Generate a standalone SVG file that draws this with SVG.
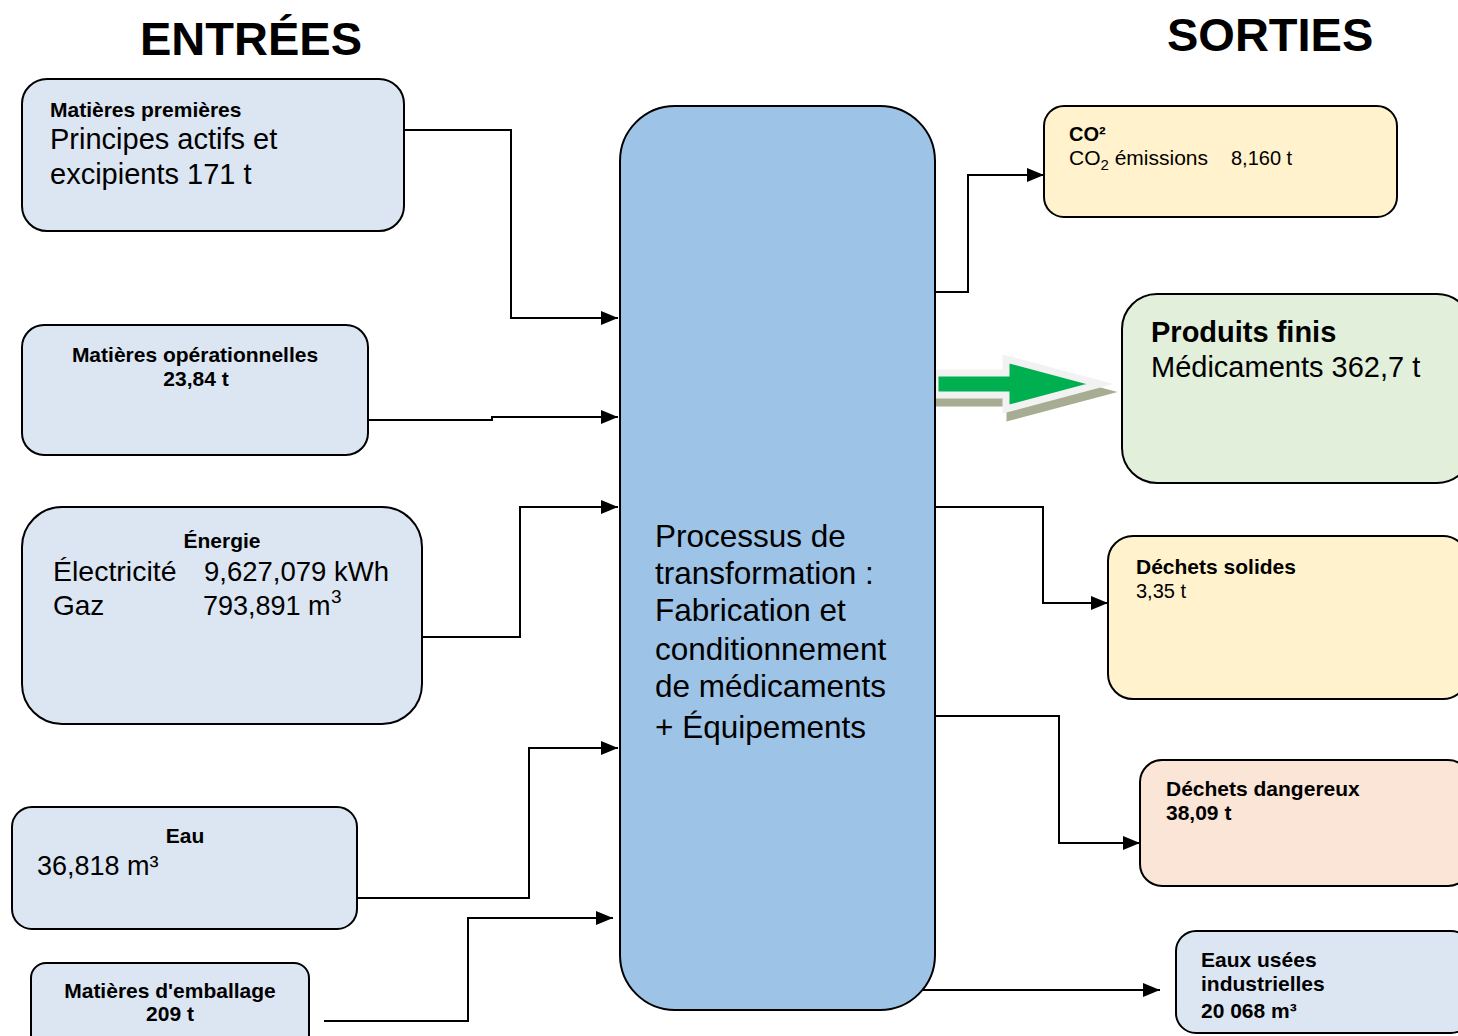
<svg xmlns="http://www.w3.org/2000/svg" width="1458" height="1036" viewBox="0 0 1458 1036">
<style>
text{font-family:"Liberation Sans",Arial,sans-serif;fill:#000}
.t{font-weight:bold;font-size:47px}
.b{font-weight:bold;font-size:21px}
.n{font-size:29px}
.box{stroke:#000;stroke-width:2}
.in{fill:#dce6f2}
.conn{fill:none;stroke:#000;stroke-width:2}
</style>
<defs>
<marker id="ah" markerUnits="userSpaceOnUse" markerWidth="18" markerHeight="14" refX="17" refY="7" orient="auto">
<path d="M0,0 L17,7 L0,14 z" fill="#000"/>
</marker>
</defs>
<text class="t" x="140" y="55">ENTRÉES</text>
<text class="t" x="1167" y="51">SORTIES</text>

<g id="connectors">
<path class="conn" d="M404,130 H511 V318 H618" marker-end="url(#ah)"/>
<path class="conn" d="M368,420 H492 V417 H618" marker-end="url(#ah)"/>
<path class="conn" d="M422,637 H520 V507 H618" marker-end="url(#ah)"/>
<path class="conn" d="M357,898 H529 V748 H618" marker-end="url(#ah)"/>
<path class="conn" d="M324,1021 H468 V918 H613" marker-end="url(#ah)"/>
<path class="conn" d="M935,292 H968 V175 H1044" marker-end="url(#ah)"/>
<path class="conn" d="M935,507 H1043 V603 H1108" marker-end="url(#ah)"/>
<path class="conn" d="M935,716 H1059 V843 H1140" marker-end="url(#ah)"/>
<path class="conn" d="M915,990 H1160" marker-end="url(#ah)"/>
<g id="big-arrow">
<polygon points="939,381 1010,381 1010,367 1104,392 1010,417 1010,403 939,403" fill="#a6ad92" stroke="#a6ad92" stroke-width="7"/>
<polygon points="935,373 1006,373 1006,359 1100,384 1006,409 1006,395 935,395" fill="#00b050" stroke="#f2f2f2" stroke-width="7"/>
</g>
</g>

<g id="matieres-premieres">
<rect class="box in" x="22" y="79" width="382" height="152" rx="25"/>
<text class="b" x="50" y="117">Matières premières</text>
<text class="n" x="50" y="149">Principes actifs et</text>
<text class="n" x="50" y="184">excipients 171 t</text>
</g>

<g id="matieres-operationnelles">
<rect class="box in" x="22" y="325" width="346" height="130" rx="22"/>
<text class="b" x="195" y="362" text-anchor="middle">Matières opérationnelles</text>
<text class="b" x="196" y="386" text-anchor="middle">23,84 t</text>
</g>

<g id="energie">
<rect class="box in" x="22" y="507" width="400" height="217" rx="40"/>
<text class="b" x="222" y="548" text-anchor="middle">Énergie</text>
<text x="53" y="581" style="font-size:28.5px">Électricité</text>
<text x="204" y="581" style="font-size:27.5px">9,627,079 kWh</text>
<text x="53" y="615" style="font-size:28px">Gaz</text>
<text x="203" y="615" style="font-size:27px">793,891 m</text>
<text x="331" y="603" style="font-size:19px">3</text>
</g>

<g id="eau">
<rect class="box in" x="12" y="807" width="345" height="122" rx="20"/>
<text class="b" x="185" y="843" text-anchor="middle">Eau</text>
<text x="37" y="875" style="font-size:27px">36,818 m³</text>
</g>

<g id="matieres-emballage">
<rect class="box in" x="31" y="963" width="278" height="90" rx="15"/>
<text class="b" x="170" y="998" text-anchor="middle">Matières d'emballage</text>
<text class="b" x="170" y="1021" text-anchor="middle">209 t</text>
</g>

<g id="processus">
<rect class="box" x="620" y="106" width="315" height="904" rx="55" fill="#9dc3e6"/>
<g style="font-size:31.5px">
<text x="655" y="547">Processus de</text>
<text x="655" y="584">transformation :</text>
<text x="655" y="621">Fabrication et</text>
<text x="655" y="660">conditionnement</text>
<text x="655" y="697">de médicaments</text>
<text x="655" y="738">+ Équipements</text>
</g>
</g>

<g id="co2">
<rect class="box" x="1044" y="106" width="353" height="111" rx="20" fill="#fff2cc"/>
<text class="b" x="1069" y="141" style="font-size:20px">CO²</text>
<text x="1069" y="165" style="font-size:21px">CO<tspan style="font-size:15px" dy="5">2</tspan><tspan dy="-5"> émissions</tspan></text>
<text x="1231" y="165" style="font-size:20px">8,160 t</text>
</g>

<g id="produits-finis">
<rect class="box" x="1122" y="294" width="350" height="189" rx="35" fill="#e2efda"/>
<text x="1151" y="342" style="font-size:29px;font-weight:bold">Produits finis</text>
<text class="n" x="1151" y="377">Médicaments 362,7 t</text>
</g>

<g id="dechets-solides">
<rect class="box" x="1108" y="536" width="360" height="163" rx="25" fill="#fff2cc"/>
<text class="b" x="1136" y="574">Déchets solides</text>
<text x="1136" y="598" style="font-size:20px">3,35 t</text>
</g>

<g id="dechets-dangereux">
<rect class="box" x="1140" y="760" width="330" height="126" rx="22" fill="#fbe5d6"/>
<text class="b" x="1166" y="796">Déchets dangereux</text>
<text class="b" x="1166" y="820">38,09 t</text>
</g>

<g id="eaux-usees">
<rect class="box in" x="1176" y="931" width="295" height="102" rx="20"/>
<text class="b" x="1201" y="967">Eaux usées</text>
<text class="b" x="1201" y="991">industrielles</text>
<text class="b" x="1201" y="1018">20 068 m³</text>
</g>
</svg>
